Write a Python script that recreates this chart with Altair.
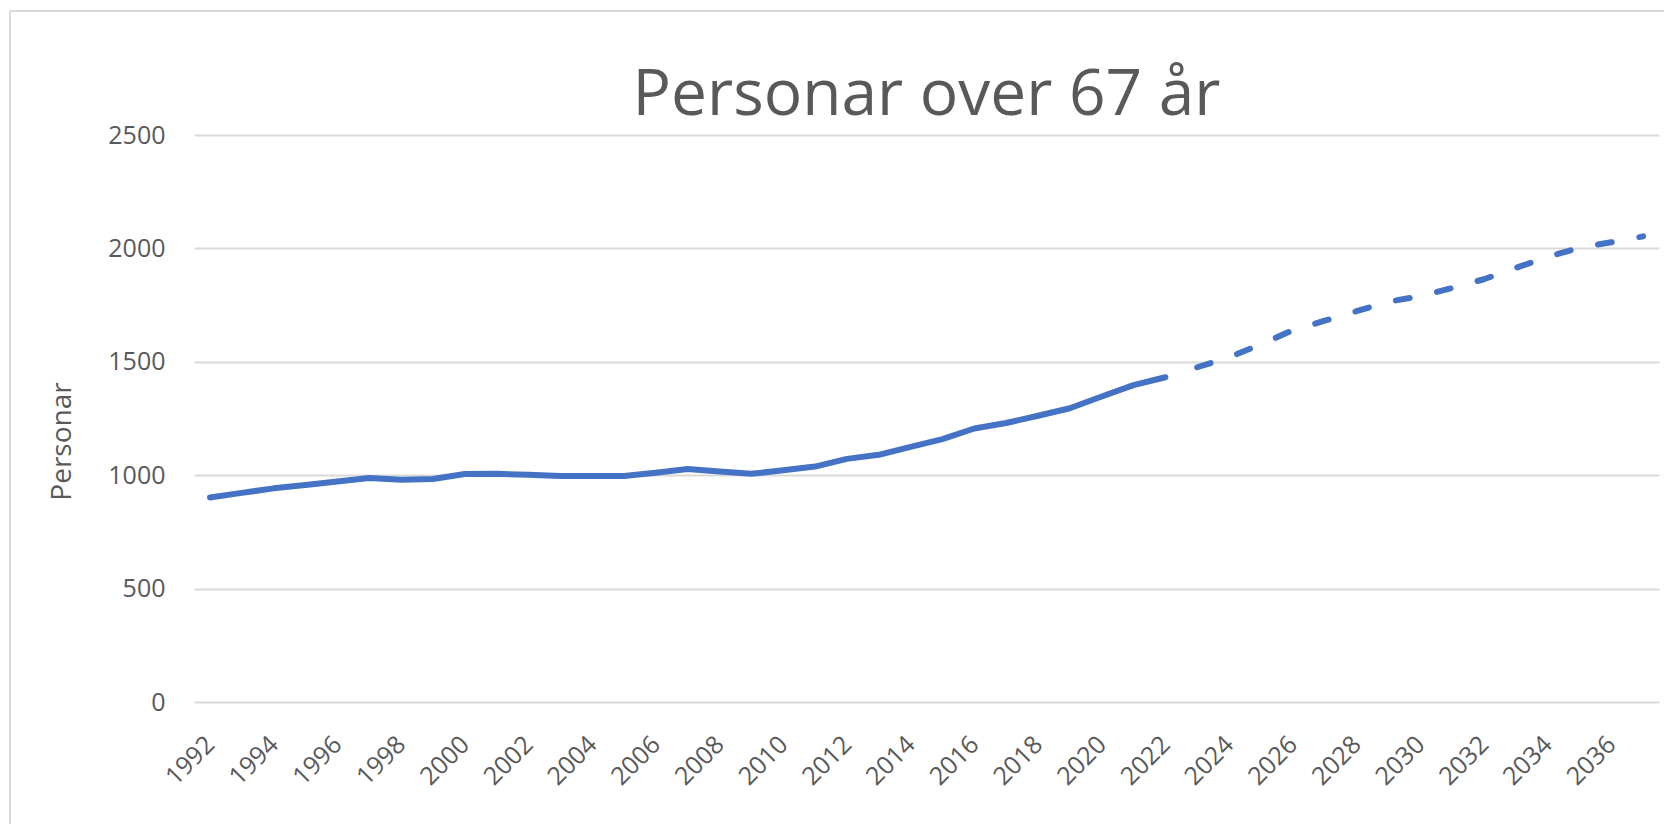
import altair as alt
import pandas as pd

years = [1992, 1993, 1994, 1995, 1996, 1997, 1998, 1999, 2000, 2001, 2002, 2003,
         2004, 2005, 2006, 2007, 2008, 2009, 2010, 2011, 2012, 2013, 2014, 2015,
         2016, 2017, 2018, 2019, 2020, 2021, 2022, 2023, 2024, 2025, 2026, 2027,
         2028, 2029, 2030, 2031, 2032, 2033, 2034, 2035, 2036, 2037]

hist_years = years[:31]
hist_values = [902, 922, 942, 957, 972, 988, 980, 983, 1005, 1006, 1002, 996,
               996, 996, 1011, 1027, 1016, 1006, 1022, 1038, 1072, 1090, 1125,
               1159, 1206, 1230, 1262, 1295, 1347, 1397, 1432]

proj_years = years[31:]
proj_values = [1476, 1520, 1577, 1639, 1681, 1723, 1765, 1789, 1825, 1864,
               1914, 1962, 2003, 2027, 2053]

x_tick_labels = [1992, 1994, 1996, 1998, 2000, 2002, 2004, 2006, 2008, 2010,
                 2012, 2014, 2016, 2018, 2020, 2022, 2024, 2026, 2028, 2030,
                 2032, 2034, 2036]
y_tick_labels = [0, 500, 1000, 1500, 2000, 2500]

title_text = "Personar over 67 år"
y_title = "Personar"

df = pd.DataFrame(
    {
        "year": hist_years + proj_years,
        "value": hist_values + proj_values,
        "series": ["hist"] * len(hist_years) + ["proj"] * len(proj_years),
    }
)

FONT = "Open Sans"
GREY = "#595959"
BLUE = "#4472C4"

x_enc = alt.X(
    "year:O",
    scale=alt.Scale(type="point", domain=years, padding=0.5),
    axis=alt.Axis(
        values=x_tick_labels,
        labelAngle=-45,
        labelAlign="right",
        labelBaseline="middle",
        labelPadding=38,
        labelOverlap=False,
        labelFont=FONT,
        labelFontSize=25,
        labelColor=GREY,
        grid=False,
        domain=False,
        ticks=False,
        tickSize=0,
        title=None,
    ),
)
y_enc = alt.Y(
    "value:Q",
    scale=alt.Scale(domain=[0, 2500], nice=False),
    axis=alt.Axis(
        values=y_tick_labels,
        format="d",
        labelPadding=29,
        labelFont=FONT,
        labelFontSize=25,
        labelColor=GREY,
        grid=True,
        gridColor="#d9d9d9",
        gridWidth=2,
        domain=False,
        ticks=False,
        tickSize=0,
        title=y_title,
        titleFontSize=28,
        titleFontWeight="normal",
        titleColor=GREY,
        titleFont=FONT,
        titleAngle=-90,
        titleAlign="center",
        titleBaseline="alphabetic",
        titleX=-124,
        titleY=306,
    ),
)

base = alt.Chart(df)

hist = base.transform_filter(alt.datum.series == "hist").mark_line(
    color=BLUE, strokeWidth=6, strokeCap="round", strokeJoin="round"
).encode(x=x_enc, y=y_enc)

proj = base.transform_filter(alt.datum.series == "proj").mark_line(
    color=BLUE, strokeWidth=6, strokeCap="round", strokeJoin="round",
    strokeDash=[14, 28]
).encode(x=x_enc, y=y_enc)

border_data = alt.Data(values=[{"k": 1}])
border_top = alt.Chart(border_data).mark_rule(color="#d9d9d9", strokeWidth=2).encode(
    x=alt.value(-184), x2=alt.value(1470), y=alt.value(-124)
)
border_left = alt.Chart(border_data).mark_rule(color="#d9d9d9", strokeWidth=2).encode(
    x=alt.value(-184), y=alt.value(-124), y2=alt.value(689)
)

chart = alt.layer(border_top, border_left, hist, proj).properties(
    width=1465,
    height=567,
    background="white",
    autosize=alt.AutoSizeParams(type="none"),
    padding={"left": 186, "top": 127, "right": 5, "bottom": 122},
    title=alt.TitleParams(
        text=title_text,
        font=FONT,
        fontSize=64,
        fontWeight="normal",
        color=GREY,
        anchor="middle",
        frame="group",
        baseline="alphabetic",
        offset=-169,
    ),
).configure_view(stroke=None)

chart.save("out.html", embed_options={"renderer": "svg", "actions": False})
